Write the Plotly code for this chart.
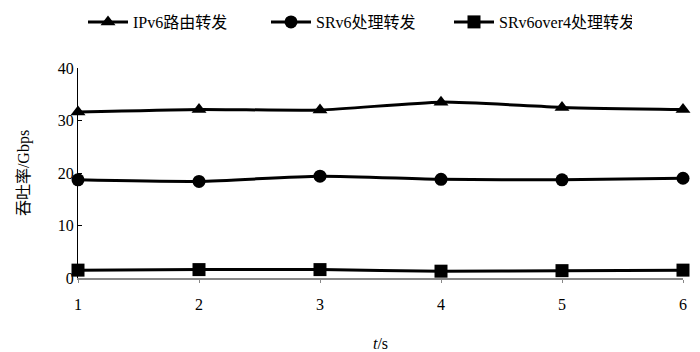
import plotly.graph_objects as go

t = [1, 2, 3, 4, 5, 6]
ipv6 = [31.6, 32.1, 32.0, 33.5, 32.5, 32.1]
srv6 = [18.7, 18.4, 19.4, 18.8, 18.7, 19.0]
srv6over4 = [1.5, 1.6, 1.6, 1.3, 1.4, 1.5]
names = ["IPv6路由转发", "SRv6处理转发", "SRv6over4处理转发"]
symbols = ["triangle-up", "circle", "square"]

fig = go.Figure()
for name, ys, sym in zip(names, [ipv6, srv6, srv6over4], symbols):
    fig.add_trace(go.Scatter(
        x=t, y=ys, name=name, mode="lines+markers",
        line=dict(color="black", width=3, shape="spline", smoothing=0.6),
        marker=dict(symbol=sym, size=13, color="black"),
        cliponaxis=False,
    ))

font_main = "Liberation Serif, Noto Sans CJK SC, serif"
fig.update_layout(
    width=700, height=352,
    margin=dict(l=78, r=17, t=68, b=74, autoexpand=False),
    paper_bgcolor="white", plot_bgcolor="white",
    font=dict(family=font_main, size=16, color="black"),
    showlegend=True,
    legend=dict(orientation="h", x=83 / 700, xanchor="left", y=1 - 22 / 352, yanchor="middle",
                yref="container", xref="container", font=dict(size=16),
                itemwidth=40, entrywidth=128, entrywidthmode="pixels",
                traceorder="normal"),
    xaxis=dict(range=[1, 6], tickvals=t, showgrid=False, zeroline=False,
               showline=True, linecolor="#888888", linewidth=2,
               ticks="outside", ticklen=3, tickcolor="#888888",
               tickfont=dict(size=16), ticklabelstandoff=8, automargin=False,
               title=dict(text="<i>t</i>/s", font=dict(size=16), standoff=27)),
    yaxis=dict(range=[0, 40], tickvals=[0, 10, 20, 30, 40], showgrid=False, zeroline=False,
               showline=True, linecolor="black", linewidth=1,
               ticks="inside", ticklen=4, tickcolor="black",
               tickfont=dict(size=16), automargin=False,
               title=dict(text="吞吐率/Gbps", font=dict(size=16), standoff=24)),
)
fig.write_html("out.html")
